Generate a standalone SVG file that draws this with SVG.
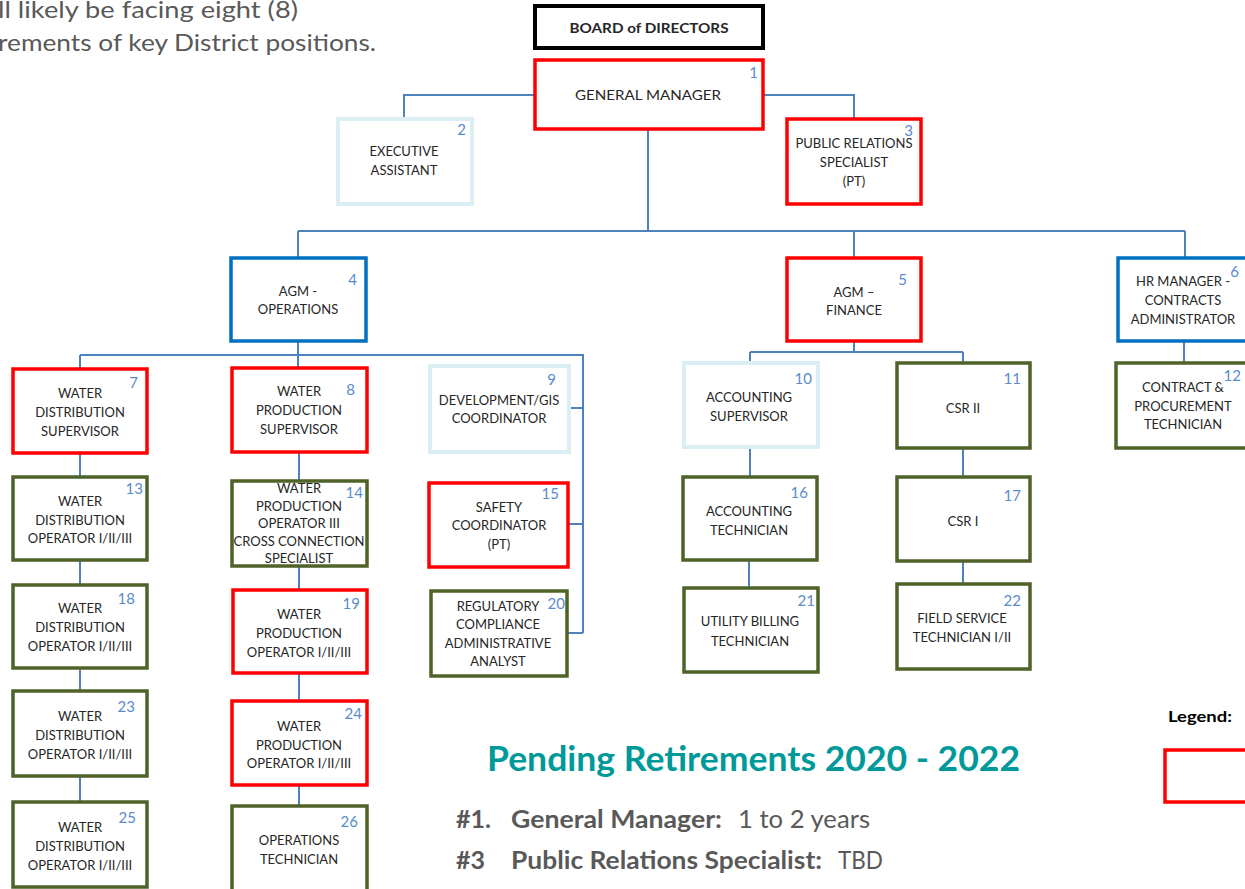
<svg xmlns="http://www.w3.org/2000/svg" width="1245" height="889" viewBox="0 0 1245 889">
<style>
.box{fill:#fff;stroke-width:3.5}
.red{stroke:#FF0000}
.blk{stroke:#000;stroke-width:4}
.blue{stroke:#0070C0}
.lb{stroke:#DAEEF3;stroke-width:4}
.grn{stroke:#4F6228}
.t{font-family:Lato,"Liberation Sans",sans-serif;font-size:13px;fill:#262626;text-anchor:middle}
.n{font-family:Lato,"Liberation Sans",sans-serif;font-size:15px;fill:#5B8BC9;text-anchor:end}
.c{fill:none;stroke:#4F81BD;stroke-width:2}
.g{font-family:Lato,"Liberation Sans",sans-serif;fill:#595959}
</style>
<rect width="1245" height="889" fill="#fff"/>
<text class="g" x="-2" y="18" font-size="24" textLength="300" lengthAdjust="spacingAndGlyphs">ll likely be facing eight (8)</text>
<text class="g" x="-2" y="51" font-size="24" textLength="378" lengthAdjust="spacingAndGlyphs">rements of key District positions.</text>

<g id="connectors" class="c">
<path d="M535 95H404V119M763 95H854V119"/>
<path d="M648 129V231M298 231H1185M298 231V258M854 231V258M1185 231V258"/>
<path d="M298 341V355M80 355H583V633M80 355V369M298 355V368M570 408H583M568 524H583M567 633H583"/>
<path d="M80 453V477M80 560V585M80 668V691M80 776V802"/>
<path d="M299 452V481M299 566V590M299 673V701M299 785V806"/>
<path d="M854 341V352M750 352H963M750 352V363M963 352V363"/>
<path d="M750 447V477M749 560V588M963 448V477M963 561V584M1184 341V363"/>
</g>

<g id="board"><rect class="box blk" x="535" y="6" width="228" height="42"/><text class="t" x="649" y="33" font-weight="bold" font-size="15" textLength="159" lengthAdjust="spacingAndGlyphs">BOARD of DIRECTORS</text></g>
<g id="n1"><rect class="box red" x="535" y="60" width="228" height="69"/><text class="n" x="758" y="78">1</text><text class="t" x="648" y="100" font-size="15" textLength="146" lengthAdjust="spacingAndGlyphs">GENERAL MANAGER</text></g>
<g id="n2"><rect class="box lb" x="338" y="119" width="134" height="85"/><text class="n" x="466" y="135">2</text><text class="t" x="404" y="156">EXECUTIVE</text><text class="t" x="404" y="175">ASSISTANT</text></g>
<g id="n3"><rect class="box red" x="787" y="119" width="134" height="85"/><text class="n" x="913" y="136">3</text><text class="t" x="854" y="148">PUBLIC RELATIONS</text><text class="t" x="854" y="167">SPECIALIST</text><text class="t" x="854" y="186">(PT)</text></g>
<g id="n4"><rect class="box blue" x="231" y="258" width="135" height="83"/><text class="n" x="357" y="285">4</text><text class="t" x="298" y="296">AGM -</text><text class="t" x="298" y="314">OPERATIONS</text></g>
<g id="n5"><rect class="box red" x="787" y="258" width="134" height="83"/><text class="n" x="907" y="285">5</text><text class="t" x="854" y="297">AGM –</text><text class="t" x="854" y="315">FINANCE</text></g>
<g id="n6"><rect class="box blue" x="1118" y="258" width="134" height="83"/><text class="n" x="1239" y="277">6</text><text class="t" x="1183" y="286">HR MANAGER -</text><text class="t" x="1183" y="305">CONTRACTS</text><text class="t" x="1183" y="324">ADMINISTRATOR</text></g>

<g id="n7"><rect class="box red" x="13" y="369" width="134" height="84"/><text class="n" x="138" y="388">7</text><text class="t" x="80" y="398">WATER</text><text class="t" x="80" y="417">DISTRIBUTION</text><text class="t" x="80" y="436">SUPERVISOR</text></g>
<g id="n8"><rect class="box red" x="232" y="368" width="135" height="84"/><text class="n" x="355" y="395">8</text><text class="t" x="299" y="396">WATER</text><text class="t" x="299" y="415">PRODUCTION</text><text class="t" x="299" y="434">SUPERVISOR</text></g>
<g id="n9"><rect class="box lb" x="430" y="366" width="139" height="86"/><text class="n" x="556" y="385">9</text><text class="t" x="499" y="405">DEVELOPMENT/GIS</text><text class="t" x="499" y="423">COORDINATOR</text></g>
<g id="n10"><rect class="box lb" x="684" y="363" width="134" height="84"/><text class="n" x="812" y="384">10</text><text class="t" x="749" y="402">ACCOUNTING</text><text class="t" x="749" y="421">SUPERVISOR</text></g>
<g id="n11"><rect class="box grn" x="897" y="363" width="133" height="85"/><text class="n" x="1021" y="384">11</text><text class="t" x="963" y="413">CSR II</text></g>
<g id="n12"><rect class="box grn" x="1116" y="363" width="134" height="85"/><text class="n" x="1241" y="381">12</text><text class="t" x="1183" y="392">CONTRACT &amp;</text><text class="t" x="1183" y="411">PROCUREMENT</text><text class="t" x="1183" y="429">TECHNICIAN</text></g>

<g id="n13"><rect class="box grn" x="13" y="477" width="134" height="83"/><text class="n" x="143" y="494">13</text><text class="t" x="80" y="506">WATER</text><text class="t" x="80" y="525">DISTRIBUTION</text><text class="t" x="80" y="543">OPERATOR I/II/III</text></g>
<g id="n14"><rect class="box grn" x="232" y="481" width="135" height="85"/><text class="n" x="363" y="498">14</text><text class="t" x="299" y="493">WATER</text><text class="t" x="299" y="511">PRODUCTION</text><text class="t" x="299" y="528">OPERATOR III</text><text class="t" x="299" y="546">CROSS CONNECTION</text><text class="t" x="299" y="563">SPECIALIST</text></g>
<g id="n15"><rect class="box red" x="429" y="483" width="139" height="84"/><text class="n" x="559" y="499">15</text><text class="t" x="499" y="512">SAFETY</text><text class="t" x="499" y="530">COORDINATOR</text><text class="t" x="499" y="549">(PT)</text></g>
<g id="n16"><rect class="box grn" x="683" y="477" width="134" height="83"/><text class="n" x="808" y="498">16</text><text class="t" x="749" y="516">ACCOUNTING</text><text class="t" x="749" y="535">TECHNICIAN</text></g>
<g id="n17"><rect class="box grn" x="897" y="477" width="133" height="84"/><text class="n" x="1021" y="501">17</text><text class="t" x="963" y="526">CSR I</text></g>

<g id="n18"><rect class="box grn" x="13" y="585" width="134" height="83"/><text class="n" x="135" y="604">18</text><text class="t" x="80" y="613">WATER</text><text class="t" x="80" y="632">DISTRIBUTION</text><text class="t" x="80" y="651">OPERATOR I/II/III</text></g>
<g id="n19"><rect class="box red" x="233" y="590" width="134" height="83"/><text class="n" x="360" y="609">19</text><text class="t" x="299" y="619">WATER</text><text class="t" x="299" y="638">PRODUCTION</text><text class="t" x="299" y="657">OPERATOR I/II/III</text></g>
<g id="n20"><rect class="box grn" x="431" y="591" width="136" height="85"/><text class="n" x="565" y="609">20</text><text class="t" x="498" y="611">REGULATORY</text><text class="t" x="498" y="629">COMPLIANCE</text><text class="t" x="498" y="648">ADMINISTRATIVE</text><text class="t" x="498" y="666">ANALYST</text></g>
<g id="n21"><rect class="box grn" x="684" y="588" width="134" height="84"/><text class="n" x="815" y="606">21</text><text class="t" x="750" y="626">UTILITY BILLING</text><text class="t" x="750" y="646">TECHNICIAN</text></g>
<g id="n22"><rect class="box grn" x="897" y="584" width="133" height="85"/><text class="n" x="1021" y="606">22</text><text class="t" x="962" y="623">FIELD SERVICE</text><text class="t" x="962" y="642">TECHNICIAN I/II</text></g>

<g id="n23"><rect class="box grn" x="13" y="691" width="134" height="85"/><text class="n" x="135" y="712">23</text><text class="t" x="80" y="721">WATER</text><text class="t" x="80" y="740">DISTRIBUTION</text><text class="t" x="80" y="759">OPERATOR I/II/III</text></g>
<g id="n24"><rect class="box red" x="232" y="701" width="135" height="84"/><text class="n" x="362" y="719">24</text><text class="t" x="299" y="731">WATER</text><text class="t" x="299" y="750">PRODUCTION</text><text class="t" x="299" y="768">OPERATOR I/II/III</text></g>
<g id="n25"><rect class="box grn" x="13" y="802" width="134" height="85"/><text class="n" x="136" y="823">25</text><text class="t" x="80" y="832">WATER</text><text class="t" x="80" y="851">DISTRIBUTION</text><text class="t" x="80" y="870">OPERATOR I/II/III</text></g>
<g id="n26"><rect class="box grn" x="232" y="806" width="135" height="90"/><text class="n" x="358" y="827">26</text><text class="t" x="299" y="845">OPERATIONS</text><text class="t" x="299" y="864">TECHNICIAN</text></g>

<g id="legend"><text x="1168" y="722" font-family="Lato,'Liberation Sans',sans-serif" font-weight="bold" font-size="15" fill="#000" textLength="64" lengthAdjust="spacingAndGlyphs">Legend:</text><rect class="box red" x="1165" y="750" width="90" height="52" stroke-width="4"/></g>

<g id="notes">
<text x="487" y="771" font-family="Lato,'Liberation Sans',sans-serif" font-weight="bold" font-size="34" fill="#009999" textLength="533" lengthAdjust="spacingAndGlyphs">Pending Retirements 2020 - 2022</text>
<text class="g" x="456" y="828" font-size="25" font-weight="bold">#1.</text>
<text class="g" x="511" y="828" font-size="25" font-weight="bold" textLength="211" lengthAdjust="spacingAndGlyphs">General Manager:</text>
<text class="g" x="738" y="828" font-size="25" textLength="132" lengthAdjust="spacingAndGlyphs">1 to 2 years</text>
<text class="g" x="456" y="869" font-size="25" font-weight="bold">#3</text>
<text class="g" x="511" y="869" font-size="25" font-weight="bold" textLength="311" lengthAdjust="spacingAndGlyphs">Public Relations Specialist:</text>
<text class="g" x="838" y="869" font-size="25" textLength="45" lengthAdjust="spacingAndGlyphs">TBD</text>
</g>
</svg>
